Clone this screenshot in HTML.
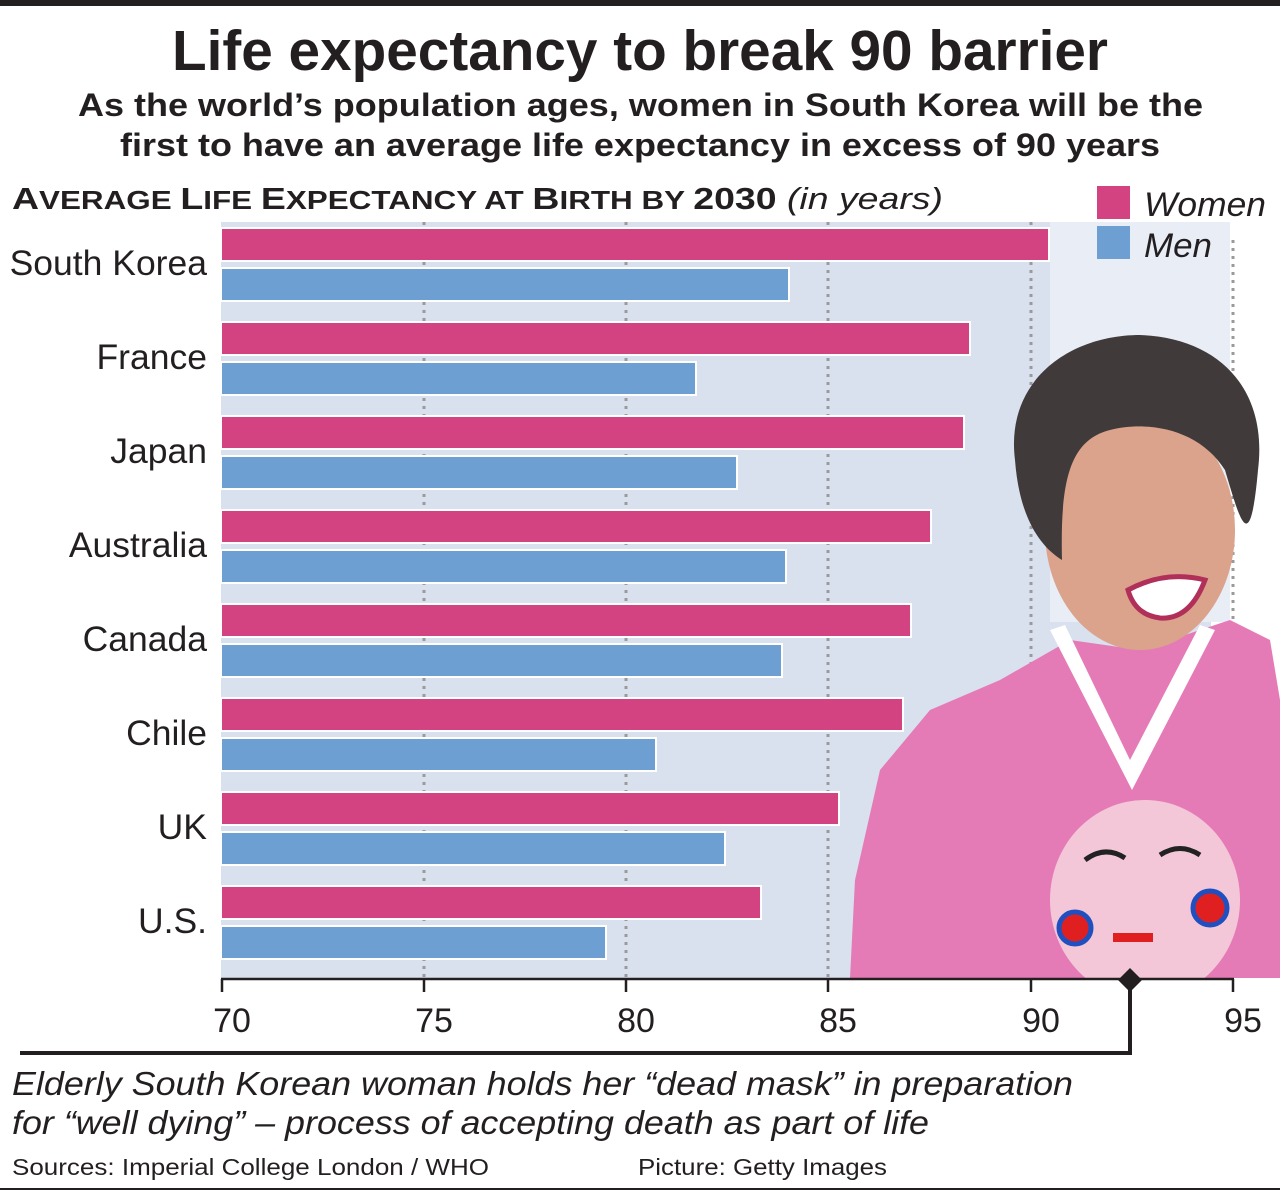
<!DOCTYPE html>
<html><head><style>
body{margin:0;background:#fff;}
svg{display:block;font-family:"Liberation Sans",sans-serif;}
</style></head><body>
<svg width="1280" height="1194" viewBox="0 0 1280 1194">
<defs><clipPath id="c"><rect x="0" y="0" width="1280" height="978"/></clipPath></defs>
<rect x="0" y="0" width="1280" height="6" fill="#231f20"/>
<text x="172" y="70" font-size="57" font-weight="bold" fill="#231f20" textLength="936" lengthAdjust="spacingAndGlyphs">Life expectancy to break 90 barrier</text>
<text x="78" y="116" font-size="32" font-weight="bold" fill="#231f20" textLength="1125" lengthAdjust="spacingAndGlyphs">As the world’s population ages, women in South Korea will be the</text>
<text x="120" y="156" font-size="32" font-weight="bold" fill="#231f20" textLength="1040" lengthAdjust="spacingAndGlyphs">first to have an average life expectancy in excess of 90 years</text>
<text x="12" y="209" font-size="31" font-weight="bold" fill="#231f20" textLength="931" lengthAdjust="spacingAndGlyphs">A<tspan font-size="26">VERAGE </tspan>L<tspan font-size="26">IFE </tspan>E<tspan font-size="26">XPECTANCY AT </tspan>B<tspan font-size="26">IRTH BY </tspan>2030 <tspan font-weight="normal" font-style="italic" font-size="31">(in years)</tspan></text>
<rect x="221" y="222" width="990" height="757" fill="#d9e0ee"/>
<rect x="1050" y="222" width="180" height="400" fill="#e8edf6"/>
<g stroke="#9a9a9a" stroke-width="3" stroke-dasharray="3,5">
<line x1="424" y1="222" x2="424" y2="978"/><line x1="626" y1="222" x2="626" y2="978"/>
<line x1="828" y1="222" x2="828" y2="978"/><line x1="1031" y1="222" x2="1031" y2="978"/>
<line x1="1233" y1="240" x2="1233" y2="978"/>
</g>
<g clip-path="url(#c)">
<path d="M850,978 L855,880 L880,770 L930,710 L1000,680 L1070,640 L1140,650 L1230,620 L1270,640 L1280,700 L1280,978 Z" fill="#e57bb6"/>
<path d="M1065,625 L1130,760 L1200,625 L1215,630 L1132,790 L1050,630 Z" fill="#fff"/>
<ellipse cx="1140" cy="530" rx="95" ry="120" fill="#dba28c"/>
<path d="M1015,460 C1005,380 1070,335 1140,335 C1220,338 1268,390 1258,470 C1250,560 1240,520 1225,470 C1200,430 1150,420 1110,430 C1070,440 1060,480 1062,560 C1030,540 1018,500 1015,460 Z" fill="#403a3a"/>
<path d="M1128,590 Q1165,570 1205,580 Q1190,620 1160,618 Q1135,615 1128,590 Z" fill="#fff" stroke="#b0305a" stroke-width="5"/>
<ellipse cx="1145" cy="900" rx="95" ry="100" fill="#f4c7d8"/>
<path d="M1085,860 Q1105,845 1125,858 M1160,855 Q1180,842 1200,855" stroke="#222" stroke-width="5" fill="none"/>
<circle cx="1075" cy="928" r="16" fill="#e02020" stroke="#2050c0" stroke-width="5"/>
<circle cx="1210" cy="908" r="17" fill="#e02020" stroke="#2050c0" stroke-width="5"/>
<rect x="1113" y="933" width="40" height="9" fill="#e02020"/>
</g>
<g stroke="#fff" stroke-width="2">
<rect x="221" y="228" width="828" height="33" fill="#d34381"/><rect x="221" y="268" width="568" height="33" fill="#6e9fd3"/>
<rect x="221" y="322" width="749" height="33" fill="#d34381"/><rect x="221" y="362" width="475" height="33" fill="#6e9fd3"/>
<rect x="221" y="416" width="743" height="33" fill="#d34381"/><rect x="221" y="456" width="516" height="33" fill="#6e9fd3"/>
<rect x="221" y="510" width="710" height="33" fill="#d34381"/><rect x="221" y="550" width="565" height="33" fill="#6e9fd3"/>
<rect x="221" y="604" width="690" height="33" fill="#d34381"/><rect x="221" y="644" width="561" height="33" fill="#6e9fd3"/>
<rect x="221" y="698" width="682" height="33" fill="#d34381"/><rect x="221" y="738" width="435" height="33" fill="#6e9fd3"/>
<rect x="221" y="792" width="618" height="33" fill="#d34381"/><rect x="221" y="832" width="504" height="33" fill="#6e9fd3"/>
<rect x="221" y="886" width="540" height="33" fill="#d34381"/><rect x="221" y="926" width="385" height="33" fill="#6e9fd3"/>
</g>
<g font-size="35.5" fill="#231f20" text-anchor="end">
<text x="207" y="275">South Korea</text><text x="207" y="369">France</text>
<text x="207" y="463">Japan</text><text x="207" y="557">Australia</text>
<text x="207" y="651">Canada</text><text x="207" y="745">Chile</text>
<text x="207" y="839">UK</text><text x="207" y="933">U.S.</text>
</g>
<rect x="1097" y="186" width="33" height="33" fill="#d34381"/>
<rect x="1097" y="226" width="33" height="33" fill="#6e9fd3"/>
<text x="1144" y="216" font-size="34" font-style="italic" fill="#231f20" textLength="122" lengthAdjust="spacingAndGlyphs">Women</text>
<text x="1144" y="257" font-size="34" font-style="italic" fill="#231f20" textLength="68" lengthAdjust="spacingAndGlyphs">Men</text>
<g stroke="#231f20" stroke-width="2.5" fill="none">
<line x1="221" y1="979" x2="1234" y2="979"/>
<line x1="222" y1="979" x2="222" y2="992"/><line x1="424" y1="979" x2="424" y2="992"/>
<line x1="626" y1="979" x2="626" y2="992"/><line x1="828" y1="979" x2="828" y2="992"/>
<line x1="1031" y1="979" x2="1031" y2="992"/><line x1="1233" y1="979" x2="1233" y2="992"/>
</g>
<g font-size="34" fill="#231f20" text-anchor="middle">
<text x="232" y="1032">70</text><text x="434" y="1032">75</text><text x="636" y="1032">80</text>
<text x="838" y="1032">85</text><text x="1041" y="1032">90</text><text x="1243" y="1032">95</text>
</g>
<path d="M20,1053 L1130,1053 L1130,985" stroke="#231f20" stroke-width="4" fill="none"/>
<path d="M1130,968 L1142,980 L1130,992 L1118,980 Z" fill="#231f20"/>
<text x="12" y="1095" font-size="33" font-style="italic" fill="#231f20" textLength="1061" lengthAdjust="spacingAndGlyphs">Elderly South Korean woman holds her “dead mask” in preparation</text>
<text x="12" y="1134" font-size="33" font-style="italic" fill="#231f20" textLength="917" lengthAdjust="spacingAndGlyphs">for “well dying” – process of accepting death as part of life</text>
<text x="12" y="1175" font-size="23" fill="#231f20" textLength="477" lengthAdjust="spacingAndGlyphs">Sources: Imperial College London / WHO</text>
<text x="638" y="1175" font-size="23" fill="#231f20" textLength="249" lengthAdjust="spacingAndGlyphs">Picture: Getty Images</text>
<rect x="0" y="1188" width="1280" height="2" fill="#231f20"/>
</svg>
</body></html>
